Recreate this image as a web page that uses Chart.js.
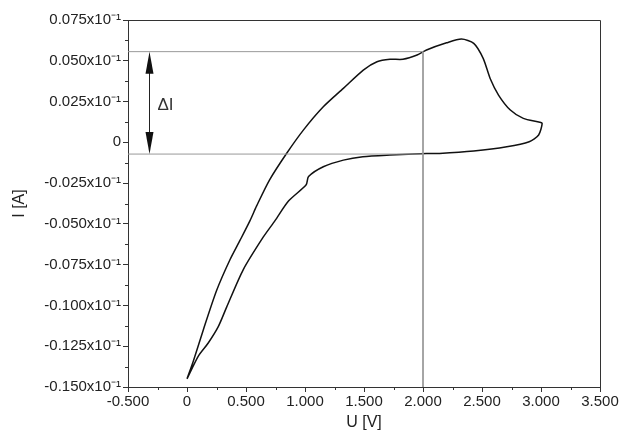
<!DOCTYPE html>
<html>
<head>
<meta charset="utf-8">
<script src="https://cdn.jsdelivr.net/npm/chart.js@4.4.1/dist/chart.umd.min.js"></script>
<style>
  html, body { margin: 0; padding: 0; background: #fff; }
  #wrap { width: 624px; height: 432px; }
</style>
</head>
<body>
<div id="wrap"><canvas id="c" width="624" height="432"></canvas></div>
<script>
// Voltage (U, V) and current (I, x10^-1 A) along the cyclic scan
const scanU = [0, 0.054, 0.138, 0.25, 0.364, 0.45, 0.534, 0.59, 0.70, 0.845, 0.986, 1.155, 1.325, 1.494, 1.61, 1.72, 1.83, 1.95, 2.03, 2.20, 2.326, 2.43, 2.51, 2.57, 2.64, 2.74, 2.85, 2.99, 3.01,
               2.98, 2.90, 2.71, 2.43, 2.14, 2.03, 1.72, 1.49, 1.325, 1.155, 1.03, 1.01, 0.86, 0.746, 0.647, 0.477, 0.336, 0.265, 0.18, 0.096, 0];
const scanI = [-0.145, -0.134, -0.115, -0.091, -0.072, -0.060, -0.048, -0.039, -0.023, -0.0067, 0.0075, 0.0218, 0.0331, 0.0443, 0.0494, 0.0509, 0.0509, 0.0535, 0.0566, 0.061, 0.0633, 0.0607, 0.0515, 0.039, 0.029, 0.0198, 0.0147, 0.0123, 0.0116,
               0.0045, 0.0004, -0.0027, -0.0053, -0.0068, -0.0069, -0.0078, -0.0088, -0.0109, -0.015, -0.021, -0.026, -0.036, -0.048, -0.058, -0.078, -0.101, -0.113, -0.123, -0.131, -0.145];

// Marker values
const deltaTop = 0.0556;
const deltaBottom = -0.0072;
const markerU = 2.0;
const arrowU = -0.32;

// Axis ticks
const xTicks = [-0.5, 0, 0.5, 1.0, 1.5, 2.0, 2.5, 3.0, 3.5];
const yTicks = [-0.150, -0.125, -0.100, -0.075, -0.050, -0.025, 0, 0.025, 0.050, 0.075];

const scanPoints = scanU.map((u, i) => ({ x: u, y: scanI[i] }));
const FONT = "'Liberation Sans', Arial, sans-serif";

const decor = {
  id: 'decor',
  afterDraw(chart) {
    const ctx = chart.ctx, a = chart.chartArea;
    const xs = chart.scales.x, ys = chart.scales.y;
    ctx.save();
    ctx.strokeStyle = '#333';
    ctx.lineWidth = 1;
    ctx.beginPath();
    ctx.moveTo(a.left, a.top + 0.5); ctx.lineTo(a.right + 0.5, a.top + 0.5); ctx.lineTo(a.right + 0.5, a.bottom);
    ctx.stroke();
    ctx.beginPath();
    for (let i = 0; i < xTicks.length - 1; i++) {
      const px = Math.round(xs.getPixelForValue((xTicks[i] + xTicks[i + 1]) / 2)) + 0.5;
      ctx.moveTo(px, a.bottom); ctx.lineTo(px, a.bottom + 3);
    }
    for (let i = 0; i < yTicks.length - 1; i++) {
      const py = Math.round(ys.getPixelForValue((yTicks[i] + yTicks[i + 1]) / 2)) + 0.5;
      ctx.moveTo(a.left, py); ctx.lineTo(a.left - 3, py);
    }
    ctx.stroke();
    const ax = Math.round(xs.getPixelForValue(arrowU)) + 0.5;
    const y1 = ys.getPixelForValue(deltaTop), y2 = ys.getPixelForValue(deltaBottom);
    ctx.strokeStyle = '#222'; ctx.fillStyle = '#111';
    ctx.beginPath(); ctx.moveTo(ax, y1 + 10); ctx.lineTo(ax, y2 - 10); ctx.stroke();
    ctx.beginPath(); ctx.moveTo(ax, y1); ctx.lineTo(ax - 4, y1 + 22); ctx.lineTo(ax + 4, y1 + 22); ctx.closePath(); ctx.fill();
    ctx.beginPath(); ctx.moveTo(ax, y2); ctx.lineTo(ax - 4, y2 - 22); ctx.lineTo(ax + 4, y2 - 22); ctx.closePath(); ctx.fill();
    ctx.font = '17px ' + FONT;
    ctx.fillStyle = '#333';
    ctx.textBaseline = 'middle';
    ctx.textAlign = 'left';
    ctx.fillText('\u0394I', ax + 8, (y1 + y2) / 2 + 2);
    ctx.restore();
  }
};

new Chart(document.getElementById('c'), {
  type: 'scatter',
  data: {
    datasets: [
      { data: [{ x: -0.5, y: deltaTop }, { x: markerU, y: deltaTop }], showLine: true, borderColor: '#999', borderWidth: 1, pointRadius: 0 },
      { data: [{ x: -0.5, y: deltaBottom }, { x: markerU, y: deltaBottom }], showLine: true, borderColor: '#999', borderWidth: 1, pointRadius: 0 },
      { data: [{ x: markerU, y: deltaTop }, { x: markerU, y: -0.15 }], showLine: true, borderColor: '#999', borderWidth: 1, pointRadius: 0 },
      { data: scanPoints, showLine: true, borderColor: '#111', borderWidth: 1.5, pointRadius: 0, tension: 0.25 }
    ]
  },
  options: {
    responsive: false,
    animation: false,
    layout: { padding: { top: 20, right: 24, left: 0, bottom: 0 } },
    plugins: { legend: { display: false }, tooltip: { enabled: false } },
    scales: {
      x: {
        type: 'linear', min: -0.5, max: 3.5,
        afterBuildTicks(s) { s.ticks = xTicks.map(v => ({ value: v })); },
        afterFit(s) { s.height = 45; },
        grid: { drawOnChartArea: false, drawTicks: true, tickLength: 5, color: '#333' },
        border: { display: true, color: '#333' },
        ticks: {
          color: '#222', font: { family: FONT, size: 15 }, padding: 1, maxRotation: 0, autoSkip: false,
          callback: v => Math.abs(v) < 1e-9 ? '0' : v.toFixed(3)
        },
        title: { display: true, text: 'U [V]', color: '#222', font: { family: FONT, size: 16 }, padding: { top: 0, bottom: 0 } }
      },
      y: {
        type: 'linear', min: -0.15, max: 0.075,
        afterBuildTicks(s) { s.ticks = yTicks.map(v => ({ value: v })); },
        afterFit(s) { s.width = 128; },
        grid: { drawOnChartArea: false, drawTicks: true, tickLength: 5, color: '#333' },
        border: { display: true, color: '#333' },
        ticks: {
          color: '#222', font: { family: FONT, size: 15 }, padding: 2, autoSkip: false,
          callback: v => Math.abs(v) < 1e-9 ? '0' : v.toFixed(3) + 'x10\u207B\u00B9'
        },
        title: { display: true, text: 'I [A]', color: '#222', font: { family: FONT, size: 16 }, padding: { top: 10, bottom: 0 } }
      }
    }
  },
  plugins: [decor]
});
</script>
</body>
</html>
